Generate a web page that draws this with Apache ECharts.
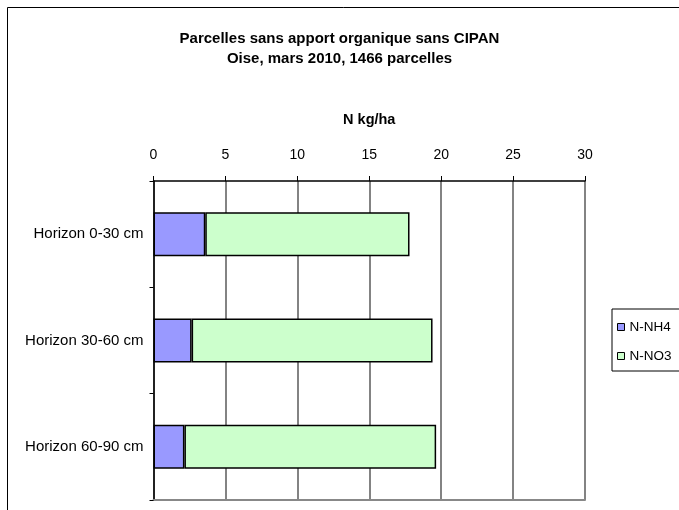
<!DOCTYPE html>
<html><head><meta charset="utf-8">
<script src="https://cdn.jsdelivr.net/npm/echarts@6/dist/echarts.min.js"></script>
<style>html,body{margin:0;padding:0;background:#fff}#c{width:679px;height:510px}</style>
</head><body><div id="c"></div>
<script>
const categories = ["Horizon 0-30 cm", "Horizon 30-60 cm", "Horizon 60-90 cm"];
const nh4 = [3.6, 2.65, 2.15];
const no3 = [14.2, 16.75, 17.5];
const seriesNames = ["N-NH4", "N-NO3"];
const titleLines = ["Parcelles sans apport organique sans CIPAN", "Oise, mars 2010, 1466 parcelles"];
const axisTitle = "N kg/ha";

const font = "Liberation Sans, Arial, sans-serif";
const chart = echarts.init(document.getElementById('c'), null, {renderer: 'canvas'});
chart.setOption({
  animation: false,
  backgroundColor: '#fff',
  textStyle: {fontFamily: font},
  graphic: [{type: 'rect', shape: {x: 7.5, y: 7.5, width: 700, height: 520}, style: {fill: 'none', stroke: '#000', lineWidth: 1}, silent: true, z: 0}],
  title: {
    text: titleLines.join('\n'), left: 'center', top: 24,
    textStyle: {fontFamily: font, fontSize: 15, fontWeight: 'bold', color: '#000', lineHeight: 20}
  },
  legend: {
    orient: 'vertical', left: 612, top: 309,
    data: seriesNames,
    itemWidth: 7, itemHeight: 7, itemGap: 15,
    icon: 'rect',
    padding: [11, 40, 8, 5],
    borderColor: '#000', borderWidth: 1, backgroundColor: '#fff',
    textStyle: {fontFamily: font, fontSize: 13.5, color: '#000'},
    itemStyle: {borderColor: '#000', borderWidth: 1}
  },
  grid: {left: 153.5, right: 94, top: 181, bottom: 10, containLabel: false},
  xAxis: [{
    type: 'value', position: 'top', min: 0, max: 30, interval: 5,
    name: axisTitle, nameLocation: 'middle', nameGap: 54,
    nameTextStyle: {fontFamily: font, fontSize: 14.5, fontWeight: 'bold', color: '#000'},
    axisLine: {show: true, lineStyle: {color: '#000', width: 1.5}},
    axisTick: {show: true, inside: false, length: 5, lineStyle: {color: '#000'}},
    axisLabel: {fontFamily: font, fontSize: 14, color: '#000', margin: 19},
    splitLine: {show: true, lineStyle: {color: '#5a5a5a', width: 1.5}}
  }, {
    type: 'value', position: 'bottom', min: 0, max: 30, interval: 5,
    axisLine: {show: true, lineStyle: {color: '#888', width: 2}},
    axisTick: {show: false}, axisLabel: {show: false}, splitLine: {show: false}
  }],
  yAxis: {
    type: 'category', inverse: true, data: categories,
    axisLine: {show: true, lineStyle: {color: '#000', width: 1.5}},
    axisTick: {show: true, inside: false, length: 4, lineStyle: {color: '#000'}},
    axisLabel: {fontFamily: font, fontSize: 15, color: '#000', margin: 10},
    splitLine: {show: false}
  },
  series: [
    {name: seriesNames[0], type: 'bar', stack: 'n', data: nh4, barWidth: 44, xAxisIndex: 0,
     itemStyle: {color: '#9999FF', borderColor: '#000', borderWidth: 1.5}},
    {name: seriesNames[1], type: 'bar', stack: 'n', data: no3, barWidth: 44, xAxisIndex: 0,
     itemStyle: {color: '#CCFFCC', borderColor: '#000', borderWidth: 1.5}}
  ]
});
</script></body></html>
